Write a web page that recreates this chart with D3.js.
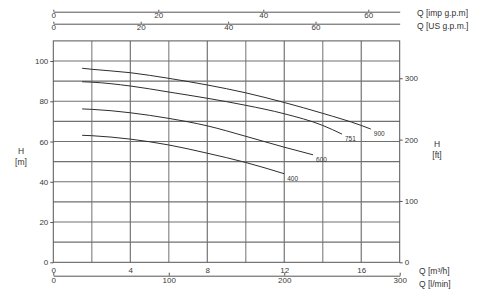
<!DOCTYPE html>
<html>
<head>
<meta charset="utf-8">
<script src="https://cdn.jsdelivr.net/npm/d3@7"></script>
<style>
  body { margin: 0; background: #fff; }
  svg { display: block; font-family: "Liberation Sans", Arial, sans-serif; }
  .axis text { fill: #3a3a3a; font-size: 8px; }
  .axis line, .axis path { stroke: #555; }
  .title { fill: #333; font-size: 8.5px; }
  .curve-label { fill: #333; font-size: 6.5px; }
</style>
</head>
<body>
<svg></svg>
<script>
// data -----------------------------------------------------
const curveNames = ["900", "751", "600", "400"]
const q900 = [1.5, 2, 4, 6, 8, 10, 12, 14, 16, 16.5]
const h900 = [96.4, 95.9, 94.2, 91.4, 88.1, 84.2, 79.4, 74.0, 68.0, 66.2]
const q751 = [1.5, 2, 4, 6, 8, 10, 12, 14, 15]
const h751 = [89.7, 89.5, 87.6, 84.6, 81.5, 78.0, 73.8, 68.0, 63.7]
const q600 = [1.5, 2, 4, 6, 8, 10, 12, 13.5]
const h600 = [76.2, 76.0, 74.3, 71.5, 67.8, 62.6, 57.2, 53.4]
const q400 = [1.5, 2, 4, 6, 8, 10, 12]
const h400 = [63.1, 62.9, 61.2, 58.3, 54.2, 49.6, 44.0]

const m3hTicks = [0, 4, 8, 12, 16]
const lminTicks = [0, 100, 200, 300]
const impTicks = [0, 20, 40, 60]
const usTicks = [0, 20, 40, 60]
const mTicks = [0, 20, 40, 60, 80, 100]
const ftTicks = [0, 100, 200, 300]

// unit conversions from m3/h and m
const IMP_PER_M3H = 3.6662
const US_PER_M3H = 4.4029
const FT_PER_M = 3.28084

// canvas -----------------------------------------------------
const W = 480, H = 295
const svg = d3.select("svg").attr("width", W).attr("height", H)

const plotLeft = 53.3, plotRight = 399.7, plotTop = 40.9, plotBottom = 262.3
const qMax = 18, hMax = 110

const x = d3.scaleLinear().domain([0, qMax]).range([plotLeft, plotRight])
const y = d3.scaleLinear().domain([0, hMax]).range([plotBottom, plotTop])
const xImp = d3.scaleLinear().domain([0, qMax * IMP_PER_M3H]).range([plotLeft, plotRight])
const xUS = d3.scaleLinear().domain([0, qMax * US_PER_M3H]).range([plotLeft, plotRight])
const xLmin = d3.scaleLinear().domain([0, qMax * 1000 / 60]).range([plotLeft, plotRight])
const yFt = d3.scaleLinear().domain([0, hMax * FT_PER_M]).range([plotBottom, plotTop])

// grid ---------------------------------------------------------
const grid = svg.append("g").attr("class", "grid")
grid.selectAll(".v")
  .data(d3.range(2, qMax, 2))
  .join("line")
  .attr("x1", d => x(d)).attr("x2", d => x(d))
  .attr("y1", plotTop).attr("y2", plotBottom)
  .attr("stroke", (d, i) => i % 2 === 0 ? "#9a9a9a" : "#5a5a5a")
  .attr("stroke-width", (d, i) => i % 2 === 0 ? 1.4 : 1)
grid.selectAll(".h")
  .data(d3.range(10, hMax, 10))
  .join("line")
  .attr("x1", plotLeft).attr("x2", plotRight)
  .attr("y1", d => y(d)).attr("y2", d => y(d))
  .attr("stroke", "#707070")
  .attr("stroke-width", 1.1)

svg.append("rect")
  .attr("x", plotLeft).attr("y", plotTop)
  .attr("width", plotRight - plotLeft).attr("height", plotBottom - plotTop)
  .attr("fill", "none").attr("stroke", "#555").attr("stroke-width", 1)

// axes ---------------------------------------------------------
function styleAxis(g, keepDomain) {
  g.attr("class", "axis")
  if (!keepDomain) g.select(".domain").remove()
  g.selectAll("text").attr("font-family", null).attr("font-size", null)
}

svg.append("g")
  .attr("transform", `translate(0,${plotBottom})`)
  .call(d3.axisBottom(x).tickValues(m3hTicks).tickSize(0).tickPadding(5))
  .call(g => styleAxis(g, false))

svg.append("g")
  .attr("transform", "translate(0,275.7)")
  .call(d3.axisBottom(xLmin).tickValues(lminTicks).tickSizeInner(-3).tickSizeOuter(0).tickPadding(2))
  .call(g => styleAxis(g, true))

svg.append("g")
  .attr("transform", "translate(0,11.7)")
  .call(d3.axisBottom(xImp).tickValues(impTicks).tickSizeInner(-2).tickSizeOuter(0).tickPadding(1))
  .call(g => styleAxis(g, true))

svg.append("g")
  .attr("transform", "translate(0,23.7)")
  .call(d3.axisBottom(xUS).tickValues(usTicks).tickSizeInner(-2).tickSizeOuter(0).tickPadding(1))
  .call(g => styleAxis(g, true))

svg.append("g")
  .attr("transform", `translate(${plotLeft},0)`)
  .call(d3.axisLeft(y).tickValues(mTicks).tickSize(3).tickPadding(2))
  .call(g => styleAxis(g, false))

svg.append("g")
  .attr("transform", `translate(${plotRight},0)`)
  .call(d3.axisRight(yFt).tickValues(ftTicks).tickSize(3).tickPadding(2))
  .call(g => styleAxis(g, false))

// axis titles
const titles = [
  { t: "Q [imp g.p.m]", x: 417, y: 16 },
  { t: "Q [US g.p.m.]", x: 417, y: 29 },
  { t: "Q [m³/h]", x: 419, y: 273.5 },
  { t: "Q [l/min]", x: 419, y: 286.5 }
]
svg.selectAll(".qtitle")
  .data(titles)
  .join("text")
  .attr("class", "title")
  .attr("x", d => d.x).attr("y", d => d.y)
  .text(d => d.t)

const hTitles = [
  { t: "H", x: 21, y: 154 }, { t: "[m]", x: 21, y: 164.5 },
  { t: "H", x: 437, y: 147 }, { t: "[ft]", x: 437, y: 157.5 }
]
svg.selectAll(".htitle")
  .data(hTitles)
  .join("text")
  .attr("class", "title")
  .attr("text-anchor", "middle")
  .attr("x", d => d.x).attr("y", d => d.y)
  .text(d => d.t)

// curves -------------------------------------------------------
const curveQ = [q900, q751, q600, q400]
const curveH = [h900, h751, h600, h400]
const curves = curveNames.map((name, i) => ({
  name,
  points: curveQ[i].map((q, j) => [q, curveH[i][j]])
}))

const line = d3.line()
  .x(d => x(d[0]))
  .y(d => y(d[1]))
  .curve(d3.curveMonotoneX)

svg.append("g")
  .selectAll("path")
  .data(curves)
  .join("path")
  .attr("d", d => line(d.points))
  .attr("fill", "none")
  .attr("stroke", "#2e2e2e")
  .attr("stroke-width", 1)

svg.append("g")
  .selectAll("text")
  .data(curves)
  .join("text")
  .attr("class", "curve-label")
  .attr("x", d => x(d.points[d.points.length - 1][0]) + 3)
  .attr("y", d => y(d.points[d.points.length - 1][1]) + 7)
  .text(d => d.name)
</script>
</body>
</html>
